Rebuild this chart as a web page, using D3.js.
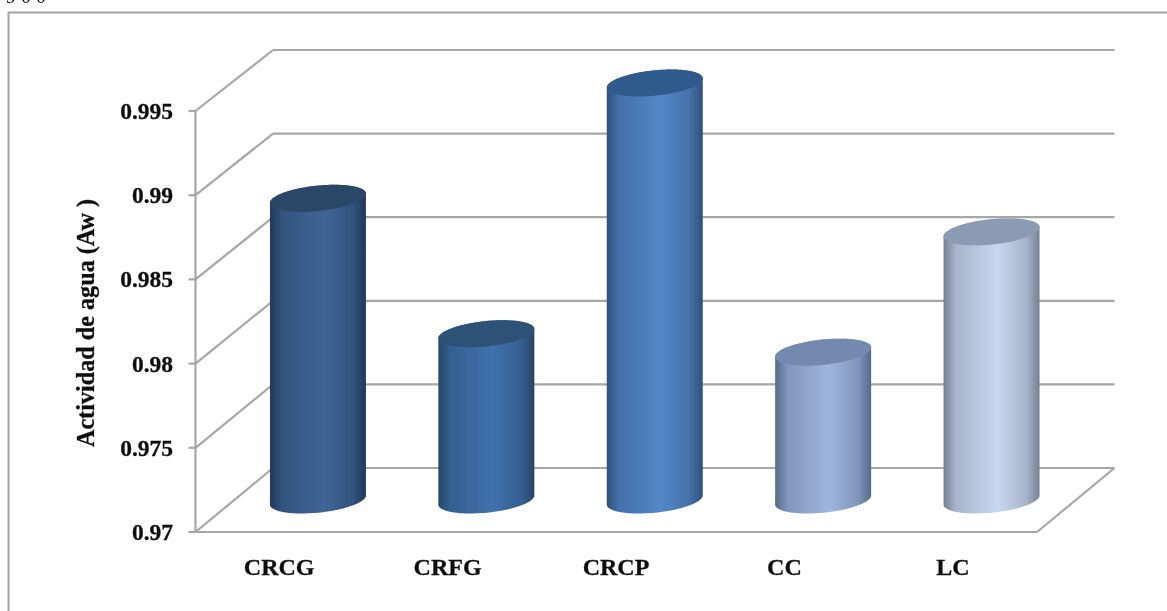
<!DOCTYPE html>
<html><head><meta charset="utf-8">
<script src="https://cdn.jsdelivr.net/npm/d3@7/dist/d3.min.js"></script>
<style>html,body{margin:0;padding:0;background:#fff;overflow:hidden}svg{display:block}
text{font-family:"Liberation Serif",serif;font-weight:bold;fill:#111}</style>
</head><body><svg id="c" width="1167" height="611"></svg>
<script>
const categories = ["CRCG","CRFG","CRCP","CC","LC"];
const values = [0.98795, 0.97988, 0.99482, 0.97878, 0.98595];
const yTicks = [0.97,0.975,0.98,0.985,0.99,0.995];
const yTickLabels = ["0.97","0.975","0.98","0.985","0.99","0.995"];
const axisTitle = "Actividad de agua (Aw )";
const strayText = "9 0 0";
const edgeColors = ["#203a5a","#264668","#2f517c","#56698a","#767f94"];
const midColors  = ["#3f6596","#3f72ad","#5387c8","#9eb5de","#c8d7f0"];
const topColors  = ["#2b4668","#2f5178","#2f5a8c","#7389ad","#8d9ab3"];

const svg = d3.select("#c");
const W = 1167, H = 611;
const y = d3.scaleLinear().domain([0.97,0.995]).range([532,111]);
const yBack = d3.scaleLinear().domain([0.97,0.995]).range([468,50]);
const x = d3.scaleBand().domain(categories).range([195,1037]);
const depthX = 77.5;
const gridColor = "#a6a6a6";
const root = svg.append("g").attr("filter","url(#soft)");
const defs = svg.append("defs");
defs.append("filter").attr("id","soft").attr("x","-2%").attr("y","-2%").attr("width","104%").attr("height","104%")
  .append("feGaussianBlur").attr("stdDeviation",0.6);

// outer frame
root.append("path").attr("d",`M8.5,${H} V12.5 H${W}`).attr("fill","none").attr("stroke","#a3a3a3").attr("stroke-width",2);

// stray clipped text at top
root.append("text").attr("x",6).attr("y",3).attr("font-size",20).style("font-weight","normal").text(strayText);

// walls and floor
const g = root.append("g").attr("fill","none").attr("stroke",gridColor).attr("stroke-width",2.2);
const x0 = 195.5, x1 = x.range()[1];
g.append("line").attr("x1",x0).attr("x2",x0).attr("y1",y(0.97)).attr("y2",y(0.995));
yTicks.forEach(t=>{
  g.append("line").attr("x1",x0-7).attr("x2",x0).attr("y1",y(t)).attr("y2",y(t));
  g.append("line").attr("x1",x0).attr("y1",y(t)).attr("x2",x0+depthX).attr("y2",yBack(t));
  g.append("line").attr("x1",x0+depthX).attr("y1",yBack(t)).attr("x2",x1+depthX).attr("y2",yBack(t));
});
g.append("line").attr("x1",x0).attr("x2",x1).attr("y1",y(0.97)).attr("y2",y(0.97));
g.append("line").attr("x1",x1).attr("y1",y(0.97)).attr("x2",x1+depthX).attr("y2",yBack(0.97));

// cylinders
const rw = 48, cy = 13.5, bx = cy*depthX/64, ax = Math.sqrt(rw*rw-bx*bx);
const circle = (cx,cyy,a0,a1,n=60)=>d3.range(n+1).map(i=>{
  const t=a0+(a1-a0)*i/n;
  return [cx+ax*Math.cos(t)+bx*Math.sin(t), cyy-cy*Math.sin(t)];
});
const line = d3.line();
const tSil = Math.atan2(bx,ax);
categories.forEach((c,i)=>{
  const id="g"+i;
  const gr=defs.append("linearGradient").attr("id",id);
  const mix=d3.interpolateRgb(edgeColors[i],midColors[i]);
  [[0,edgeColors[i]],[0.13,mix(0.6)],[0.56,midColors[i]],[0.86,mix(0.6)],[1,edgeColors[i]]]
    .forEach(([o,col])=>gr.append("stop").attr("offset",o).attr("stop-color",col));
  const cx = x(c)+x.bandwidth()/2+depthX/2;
  const yTop = (y(values[i])+yBack(values[i]))/2-0.5;
  const yBot = (y(0.97)+yBack(0.97))/2;
  const top = circle(cx,yTop,tSil,tSil+Math.PI);
  const bot = circle(cx,yBot,tSil+Math.PI,tSil+2*Math.PI);
  root.append("path").attr("d",line(top.concat(bot))+"Z").attr("fill",`url(#${id})`);
  root.append("path").attr("d",line(circle(cx,yTop,0,2*Math.PI,120))+"Z").attr("fill",topColors[i]);
  root.append("text").attr("x",x(c)+x.bandwidth()/2).attr("y",575).attr("text-anchor","middle").attr("font-size",24).attr("stroke","#111").attr("stroke-width",0.3).text(c);
});

// y labels
yTicks.forEach((t,i)=>{
  root.append("text").attr("x",173).attr("y",y(t)+8).attr("text-anchor","end").attr("font-size",23.5).attr("stroke","#111").attr("stroke-width",0.3).text(yTickLabels[i]);
});
root.append("text").attr("transform","translate(94,323) rotate(-90)").attr("text-anchor","middle").attr("font-size",24.2).attr("stroke","#111").attr("stroke-width",0.3).text(axisTitle);
</script></body></html>
